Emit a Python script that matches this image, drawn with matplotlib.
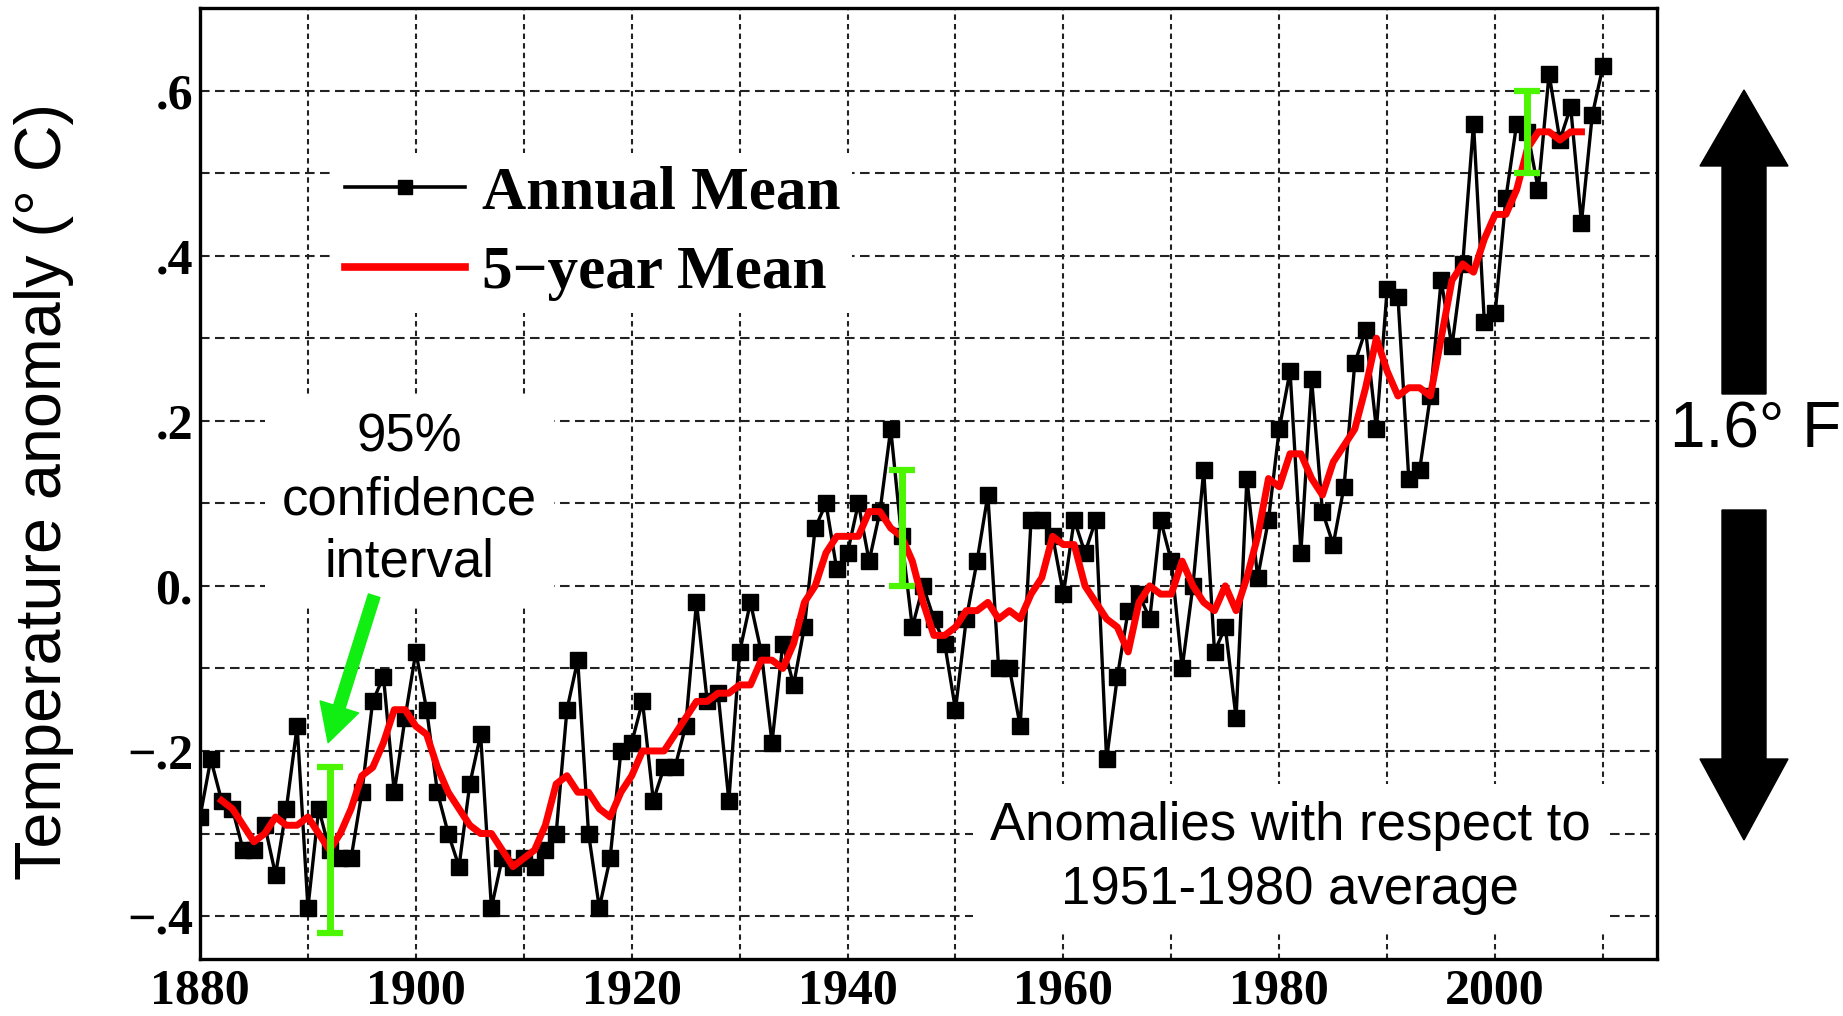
import numpy as np
import matplotlib
matplotlib.use('Agg')
import matplotlib.pyplot as plt
from matplotlib.patches import Polygon
from matplotlib.ticker import MultipleLocator, FixedLocator, FixedFormatter

# annual global temperature anomaly, 1880-2010
years = np.arange(1880, 2011)
annual = [
    -0.28, -0.21, -0.26, -0.27, -0.32, -0.32, -0.29, -0.35, -0.27, -0.17,   # 1880s
    -0.39, -0.27, -0.32, -0.33, -0.33, -0.25, -0.14, -0.11, -0.25, -0.16,   # 1890s
    -0.08, -0.15, -0.25, -0.30, -0.34, -0.24, -0.18, -0.39, -0.33, -0.34,   # 1900s
    -0.33, -0.34, -0.32, -0.30, -0.15, -0.09, -0.30, -0.39, -0.33, -0.20,   # 1910s
    -0.19, -0.14, -0.26, -0.22, -0.22, -0.17, -0.02, -0.14, -0.13, -0.26,   # 1920s
    -0.08, -0.02, -0.08, -0.19, -0.07, -0.12, -0.05, 0.07, 0.10, 0.02,      # 1930s
    0.04, 0.10, 0.03, 0.09, 0.19, 0.06, -0.05, 0.00, -0.04, -0.07,          # 1940s
    -0.15, -0.04, 0.03, 0.11, -0.10, -0.10, -0.17, 0.08, 0.08, 0.06,        # 1950s
    -0.01, 0.08, 0.04, 0.08, -0.21, -0.11, -0.03, -0.01, -0.04, 0.08,       # 1960s
    0.03, -0.10, 0.00, 0.14, -0.08, -0.05, -0.16, 0.13, 0.01, 0.08,         # 1970s
    0.19, 0.26, 0.04, 0.25, 0.09, 0.05, 0.12, 0.27, 0.31, 0.19,             # 1980s
    0.36, 0.35, 0.13, 0.14, 0.23, 0.37, 0.29, 0.39, 0.56, 0.32,             # 1990s
    0.33, 0.47, 0.56, 0.55, 0.48, 0.62, 0.54, 0.58, 0.44, 0.57,             # 2000s
    0.63,                                                                   # 2010
]

# 5-year mean, 1882-2008 (red curve)
smooth_years = np.arange(1882, 2009)
smooth = [
    -0.26, -0.27, -0.29, -0.31, -0.30, -0.28, -0.29, -0.29,                 # 1882-89
    -0.28, -0.30, -0.32, -0.30, -0.27, -0.23, -0.22, -0.19, -0.15, -0.15,   # 1890s
    -0.17, -0.18, -0.22, -0.25, -0.27, -0.29, -0.30, -0.30, -0.32, -0.34,   # 1900s
    -0.33, -0.32, -0.29, -0.24, -0.23, -0.25, -0.25, -0.27, -0.28, -0.25,   # 1910s
    -0.23, -0.20, -0.20, -0.20, -0.18, -0.16, -0.14, -0.14, -0.13, -0.13,   # 1920s
    -0.12, -0.12, -0.09, -0.09, -0.10, -0.07, -0.02, 0.00, 0.04, 0.06,      # 1930s
    0.06, 0.06, 0.09, 0.09, 0.07, 0.06, 0.03, -0.02, -0.06, -0.06,          # 1940s
    -0.05, -0.03, -0.03, -0.02, -0.04, -0.03, -0.04, -0.01, 0.01, 0.06,     # 1950s
    0.05, 0.05, 0.00, -0.02, -0.04, -0.05, -0.08, -0.02, 0.00, -0.01,       # 1960s
    -0.01, 0.03, 0.00, -0.02, -0.03, 0.00, -0.03, 0.01, 0.06, 0.13,         # 1970s
    0.12, 0.16, 0.16, 0.13, 0.11, 0.15, 0.17, 0.19, 0.24, 0.30,             # 1980s
    0.26, 0.23, 0.24, 0.24, 0.23, 0.30, 0.37, 0.39, 0.38, 0.42,             # 1990s
    0.45, 0.45, 0.48, 0.53, 0.55, 0.55, 0.54, 0.55, 0.55,                   # 2000-08
]

# 95% confidence intervals (green bars)
ci_years = [1892, 1945, 2003]
ci_low = [-0.42, 0.00, 0.50]
ci_high = [-0.22, 0.14, 0.60]

ytick_vals = [-0.4, -0.2, 0.0, 0.2, 0.4, 0.6]
ytick_labels = ['\u2212.4', '\u2212.2', '0.', '.2', '.4', '.6']
xtick_vals = [1880, 1900, 1920, 1940, 1960, 1980, 2000]

W, H = 1843, 1016
def fpx(x, y):
    """pixel (from top-left) -> figure fraction"""
    return (x / W, 1 - y / H)

plt.close('all')
fig = plt.figure(figsize=(W / 100, H / 100), dpi=100)
ax = fig.add_axes([200 / W, 1 - 959 / H, 1457 / W, 951 / H])

ax.plot(years, annual, color='black', lw=2.4, marker='s', ms=11.5,
        mfc='black', mec='black', label='Annual Mean', zorder=3)
ax.plot(smooth_years, smooth, color='#ff0000', lw=5, label='5\u2212year Mean',
        solid_joinstyle='round', zorder=4)

mid = [(a + b) / 2 for a, b in zip(ci_low, ci_high)]
half = [(b - a) / 2 for a, b in zip(ci_low, ci_high)]
ax.errorbar(ci_years, mid, yerr=half, fmt='none', ecolor='#4cf500',
            elinewidth=5, capsize=9.5, capthick=4.5, zorder=6)

ax.set_xlim(1880, 2015)
ax.set_ylim(-0.452, 0.70)

ax.xaxis.set_major_locator(FixedLocator(xtick_vals))
ax.xaxis.set_minor_locator(MultipleLocator(10))
ax.yaxis.set_major_locator(FixedLocator(ytick_vals))
ax.yaxis.set_major_formatter(FixedFormatter(ytick_labels))
ax.yaxis.set_minor_locator(MultipleLocator(0.1))
ax.tick_params(which='both', length=0)
ax.tick_params(axis='x', pad=7)
ax.tick_params(axis='y', pad=5)
for lab in ax.get_xticklabels() + ax.get_yticklabels():
    lab.set_fontfamily('Liberation Serif')
    lab.set_fontweight('bold')
    lab.set_fontsize(36)

ax.set_axisbelow(True)
ax.xaxis.grid(True, which='both', color='#222222', lw=1.5, ls=(0, (2.6, 2.0)))
ax.yaxis.grid(True, which='both', color='#222222', lw=1.5, ls=(0, (4.6, 2.6)))
for s in ax.spines.values():
    s.set_linewidth(2.4)
    s.set_color('black')

leg = ax.legend(loc='upper left', bbox_to_anchor=(0.0913, 0.8475), borderaxespad=0,
                frameon=True, fancybox=False, facecolor='white', edgecolor='none',
                framealpha=1, handlelength=1.96, handletextpad=0.27, borderpad=0.2,
                labelspacing=0.39, numpoints=1,
                prop=dict(family='Liberation Serif', weight='bold', size=44))
leg.get_lines()[0].set_linewidth(2.6)
leg.get_lines()[0].set_markersize(9.5)
leg.get_lines()[1].set_linewidth(5.5)

# annotations
ax.text(1899.4, 0.104, '95%\nconfidence\ninterval', ha='center', va='center',
        fontsize=38, family='Liberation Sans', linespacing=1.33, zorder=5,
        bbox=dict(facecolor='white', edgecolor='none', pad=12))
ax.annotate('', xy=(1891.87, -0.190), xytext=(1896.14, -0.012),
            arrowprops=dict(arrowstyle='simple,head_length=27,head_width=29,tail_width=8.6',
                            mutation_scale=1, color='#11ee11', shrinkA=0, shrinkB=0),
            zorder=7)
ax.text(1981.0, -0.33, 'Anomalies with respect to\n1951-1980 average', ha='center',
        va='center', fontsize=38, family='Liberation Sans', linespacing=1.36, zorder=5,
        bbox=dict(facecolor='white', edgecolor='none', pad=12))

fig.text(*fpx(44, 491), 'Temperature anomaly (\u00b0 C)', rotation=90, ha='center',
         va='center', fontsize=46.5, family='Liberation Sans')
fig.text(*fpx(1756, 430), '1.6\u00b0 F', ha='center', va='center', fontsize=46,
         family='Liberation Sans')

# black double arrow on the right
up = [(1744, 90), (1788, 166), (1766, 166), (1766, 394), (1722, 394), (1722, 166), (1700, 166)]
down = [(1744, 840), (1788, 759), (1766, 759), (1766, 510), (1722, 510), (1722, 759), (1700, 759)]
for pts in (up, down):
    fig.add_artist(Polygon([fpx(x, y) for x, y in pts], closed=True, facecolor='black',
                           edgecolor='black', transform=fig.transFigure))

fig.savefig('out.png', dpi=100)
